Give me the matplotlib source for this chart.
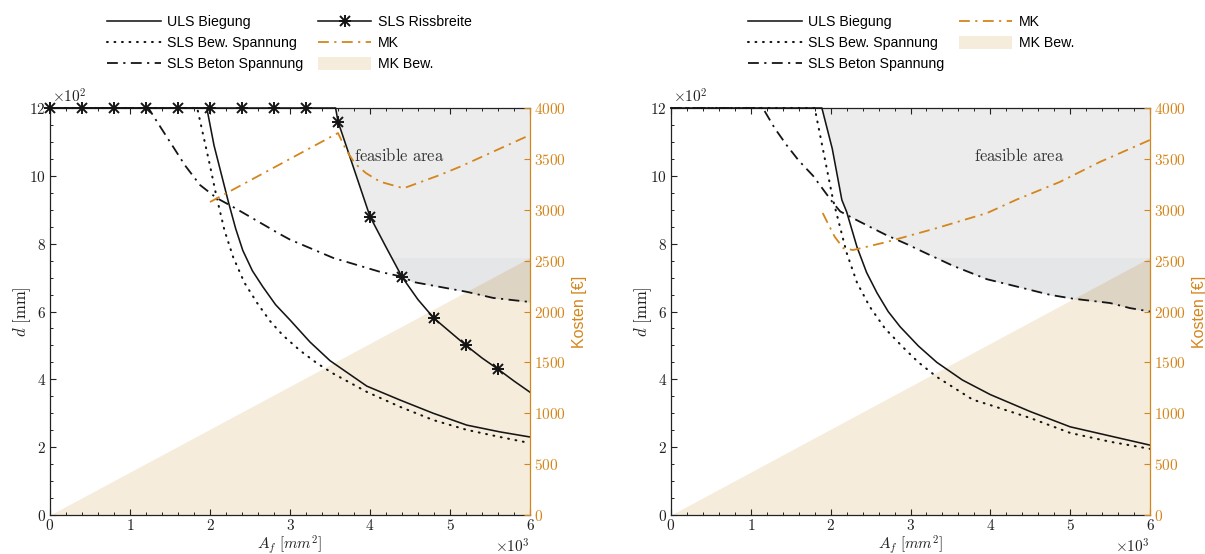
import numpy as np
import matplotlib
matplotlib.use('Agg')
import matplotlib.pyplot as plt
from matplotlib.ticker import MultipleLocator, FuncFormatter
from matplotlib.legend_handler import HandlerTuple
from matplotlib.patches import Patch

plt.rcParams['mathtext.fontset'] = 'cm'
plt.rcParams['font.family'] = ['Liberation Sans', 'DejaVu Sans']

# ---------------- data (x in 10^3 mm^2, d in 10^2 mm, cost in EUR) -------------
# left panel
L_uls_x = [0, 1.96, 2.05, 2.16, 2.23, 2.32, 2.41, 2.53, 2.66, 2.82, 3.0, 3.25, 3.5, 3.96,
           4.375, 4.79, 5.21, 5.625, 6.0]
L_uls_d = [12, 12, 10.9, 9.88, 9.23, 8.45, 7.8, 7.2, 6.73, 6.2, 5.75, 5.1, 4.55, 3.8,
           3.39, 3.0, 2.65, 2.45, 2.3]
L_bew_x = [0, 1.84, 2.0, 2.08, 2.18, 2.29, 2.43, 2.59, 2.75, 2.91, 3.125, 3.34, 3.54, 3.96,
           4.375, 4.79, 5.21, 5.625, 6.0]
L_bew_d = [12, 12, 10.3, 9.4, 8.4, 7.6, 6.85, 6.25, 5.72, 5.3, 4.85, 4.47, 4.17, 3.63,
           3.19, 2.8, 2.51, 2.3, 2.12]
L_bet_x = [0, 1.23, 1.35, 1.5, 1.69, 1.875, 2.08, 2.29, 2.875, 3.0, 3.54, 4.125, 4.41,
           4.54, 5.21, 5.54, 6.0]
L_bet_d = [12, 12, 11.55, 11.0, 10.3, 9.73, 9.35, 9.08, 8.28, 8.12, 7.58, 7.17, 7.02,
           6.87, 6.58, 6.4, 6.28]
L_riss_x = [0, 0.4, 0.8, 1.2, 1.6, 2.0, 2.4, 2.8, 3.2, 3.57, 3.6, 3.8, 4.0, 4.2, 4.4,
            4.6, 4.8, 5.0, 5.2, 5.4, 5.6, 5.8, 6.0]
L_riss_d = [12, 12, 12, 12, 12, 12, 12, 12, 12, 12, 11.6, 10.2, 8.8, 7.9, 7.02,
            6.35, 5.8, 5.4, 5.0, 4.63, 4.3, 3.95, 3.62]
L_riss_marks = [0, 1, 2, 3, 4, 5, 6, 7, 8, 10, 12, 14, 16, 18, 20]
L_mk_x = [2.0, 3.6, 3.7, 3.81, 3.95, 4.125, 4.42, 4.875, 5.125, 6.0]
L_mk_c = [3076, 3754, 3590, 3456, 3360, 3276, 3211, 3342, 3423, 3735]

# right panel
R_uls_x = [0, 1.89, 2.02, 2.14, 2.2, 2.33, 2.45, 2.58, 2.72, 2.87, 3.1, 3.33, 3.65, 4.0,
           4.5, 5.0, 5.5, 6.0]
R_uls_d = [12, 12, 10.8, 9.29, 8.94, 7.9, 7.15, 6.55, 6.0, 5.55, 4.98, 4.5, 3.98, 3.55,
           3.05, 2.6, 2.33, 2.06]
R_bew_x = [0, 1.8, 1.95, 2.03, 2.2, 2.33, 2.49, 2.68, 2.9, 3.1, 3.33, 3.78, 4.0, 4.5, 5.0,
           5.5, 6.0]
R_bew_d = [12, 12, 10.23, 9.29, 7.73, 6.85, 6.14, 5.5, 4.96, 4.5, 4.07, 3.4, 3.24, 2.86,
           2.42, 2.16, 1.95]
R_bet_x = [0, 1.15, 1.3, 1.45, 1.6, 1.78, 2.03, 2.12, 2.28, 2.53, 2.7, 2.96, 3.12, 3.53,
           3.96, 4.29, 4.75, 5.03, 5.5, 5.75, 6.0]
R_bet_d = [12, 12, 11.4, 10.9, 10.45, 10.0, 9.2, 8.95, 8.75, 8.45, 8.25, 7.98, 7.8, 7.35,
           6.95, 6.76, 6.49, 6.38, 6.25, 6.1, 6.0]
R_mk_x = [1.9, 2.05, 2.16, 2.28, 2.7, 3.33, 3.96, 4.33, 4.87, 5.37, 6.0]
R_mk_c = [2968, 2735, 2621, 2604, 2683, 2820, 2968, 3100, 3273, 3469, 3686]

# MK Bew. region (cost axis): triangle under line from origin
bew_x = [0, 6.0]
bew_c = [0, 2530]

# axes ranges
x_max, d_max, c_max = 6, 12, 4000

ORANGE = '#D4861C'
GRAY_HI = '#ececec'
GRAY_LO = '#e5e6e8'
BEIGE = '#f5ecdc'
OVERLAP = '#ddd4c3'
INK = '#151515'

fig = plt.figure(figsize=(12.05, 5.54), dpi=100)
axL = fig.add_axes([50 / 1205, 1 - 515 / 554, 480 / 1205, 407 / 554])
axR = fig.add_axes([671 / 1205, 1 - 515 / 554, 479 / 1205, 407 / 554])

fmt = FuncFormatter(lambda v, p: f'${v:g}$')
DASHDOT = (0, (6, 3, 1.2, 3))
DOTTED = (0, (0.4, 3.2))


def panel(ax, uls, bew, bet, mk, riss=None):
    ax2 = ax.twinx()
    ax.set_xlim(0, x_max)
    ax.set_ylim(0, d_max)
    ax2.set_ylim(0, c_max)
    k = d_max / c_max  # cost -> d scale of the twin axis

    xg = np.linspace(0, x_max, 1201)
    curves = [uls, bew, bet] + ([riss] if riss else [])
    lo = np.max([np.interp(xg, c[0], c[1]) for c in curves], axis=0)
    tri = np.interp(xg, bew_x, bew_c) * k
    lim = bew_c[-1] * k

    ax.fill_between(xg, 0, tri, color=BEIGE, lw=0, zorder=1)
    ax.fill_between(xg, lo, d_max, where=lo < d_max - 1e-9, interpolate=True,
                    color=GRAY_HI, lw=0, zorder=1.2)
    ax.fill_between(xg, lo, lim, where=lo < lim, interpolate=True,
                    color=GRAY_LO, lw=0, zorder=1.3)
    ax.fill_between(xg, lo, tri, where=tri > lo, interpolate=True,
                    color=OVERLAP, lw=0, zorder=1.4)

    l_uls, = ax.plot(uls[0], uls[1], '-', color=INK, lw=1.15, zorder=3, clip_on=False)
    l_bew, = ax.plot(bew[0], bew[1], color=INK, lw=1.5, ls=DOTTED,
                     dash_capstyle='round', zorder=3, clip_on=False)
    l_bet, = ax.plot(bet[0], bet[1], color=INK, lw=1.3, ls=DASHDOT,
                     zorder=3, clip_on=False)
    handles = [l_uls, l_bew, l_bet]
    labels = ['ULS Biegung', 'SLS Bew. Spannung', 'SLS Beton Spannung']
    if riss:
        l_r, = ax.plot(riss[0], riss[1], '-', color=INK, lw=1.15, marker='+',
                       ms=9, mew=1.4, markevery=riss[2], zorder=4, clip_on=False)
        mx = [riss[0][i] for i in riss[2]]
        my = [riss[1][i] for i in riss[2]]
        l_rx, = ax.plot(mx, my, ls='none', color=INK, marker='x', ms=6.5,
                        mew=1.4, zorder=4, clip_on=False)
        handles.append((l_r, l_rx))
        labels.append('SLS Rissbreite')
    l_mk, = ax2.plot(mk[0], mk[1], color=ORANGE, lw=1.3, ls=DASHDOT, zorder=3)
    handles += [l_mk, Patch(facecolor=BEIGE, edgecolor='none')]
    labels += ['MK', 'MK Bew.']

    ax.text(4.36, 10.6, r'$\mathrm{feasible\ area}$', ha='center', va='center',
            fontsize=12, color='#333333', zorder=5)

    # ticks
    ax.xaxis.set_major_locator(MultipleLocator(1))
    ax.xaxis.set_minor_locator(MultipleLocator(0.2))
    ax.yaxis.set_major_locator(MultipleLocator(2))
    ax.yaxis.set_minor_locator(MultipleLocator(0.5))
    ax.xaxis.set_major_formatter(fmt)
    ax.yaxis.set_major_formatter(fmt)
    ax.tick_params(which='both', direction='in', top=True, right=False,
                   labelsize=11, colors='#222222', pad=3)
    ax.tick_params(axis='x', which='major', pad=2.5)
    ax.tick_params(which='major', length=4, width=0.8)
    ax.tick_params(which='minor', length=2.5, width=0.7)
    ax2.yaxis.set_major_locator(MultipleLocator(500))
    ax2.yaxis.set_major_formatter(fmt)
    ax2.tick_params(axis='y', which='major', direction='in', length=4, width=0.8,
                    colors=ORANGE, labelsize=11, pad=3)
    for s in ['top', 'left', 'bottom']:
        ax.spines[s].set_color('#222222')
        ax.spines[s].set_linewidth(0.9)
        ax2.spines[s].set_visible(False)
    ax.spines['right'].set_visible(False)
    ax2.spines['right'].set_color(ORANGE)
    ax2.spines['right'].set_linewidth(0.9)

    ax.set_xlabel(r'$A_f\ [mm^2]$', fontsize=11, labelpad=0, color='#222222')
    ax.set_ylabel(r'$d\ [\mathrm{mm}]$', fontsize=12, labelpad=-3, color='#222222')
    ax2.set_ylabel('Kosten [€]', fontsize=11.5, color=ORANGE, labelpad=4)
    ax.text(0.005, 1.005, r'$\times10^2$', transform=ax.transAxes, ha='left', va='bottom',
            fontsize=11, color='#222222')
    ax.text(1.0, -0.055, r'$\times10^3$', transform=ax.transAxes, ha='right', va='top',
            fontsize=11, color='#222222')
    return handles, labels


hL, labL = panel(axL, (L_uls_x, L_uls_d), (L_bew_x, L_bew_d), (L_bet_x, L_bet_d),
                 (L_mk_x, L_mk_c), riss=(L_riss_x, L_riss_d, L_riss_marks))
hR, labR = panel(axR, (R_uls_x, R_uls_d), (R_bew_x, R_bew_d), (R_bet_x, R_bet_d),
                 (R_mk_x, R_mk_c))

leg_kw = dict(loc='upper left', ncol=2, frameon=False, fontsize=10.2, borderpad=0,
              borderaxespad=0, handlelength=3.8, handletextpad=0.45, labelspacing=0.48,
              columnspacing=1.0, handleheight=1.0,
              handler_map={tuple: HandlerTuple(ndivide=1)})
fig.legend(hL, labL, bbox_to_anchor=(107 / 1205, 1 - 15 / 554), **leg_kw)
fig.legend(hR, labR, bbox_to_anchor=(748 / 1205, 1 - 15 / 554), **leg_kw)

fig.savefig('out.png', dpi=100)
